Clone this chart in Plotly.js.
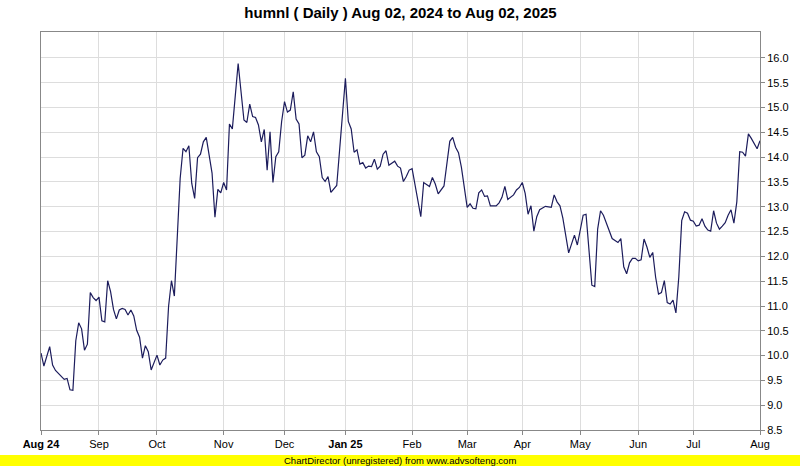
<!DOCTYPE html>
<html>
<head>
<meta charset="utf-8">
<script src="https://cdn.plot.ly/plotly-3.0.1.min.js"></script>
<style>html,body{margin:0;padding:0;background:#fff;}#chart{width:800px;height:466px;}</style>
</head>
<body>
<div id="chart"></div>
<script>
// Trading-day index of each observation (0 = first day of the window)
const dayIdx = [0,1,3,4,5,7,8,9,10,11,12,13,14,15,16,17,18,19,20,21,22,23,24,25,26,27,28,29,30,31,32,33,34,35,36,37,38,40,41,42,43,44,45,46,48,49,50,51,52,53,54,55,56,57,59,60,61,62,63,64,65,66,68,70,71,72,73,74,75,76,77,78,79,80,81,82,83,84,85,86,87,88,89,90,91,92,93,94,95,96,97,98,99,100,102,105,106,107,108,109,110,111,112,113,114,115,116,117,118,119,120,122,123,124,125,126,127,128,131,132,134,135,136,137,139,141,142,143,144,145,147,148,149,150,151,152,153,154,155,157,158,159,160,161,163,164,165,166,167,168,169,170,171,172,174,176,177,178,179,180,182,184,185,187,188,190,191,192,193,194,196,197,199,200,201,202,203,204,205,206,207,208,209,210,211,212,213,214,215,216,217,218,219,220,221,222,223,224,225,226,227,228,229,230,231,232,233,234,235,236,237,238,239,240,241,242,243,244,245,246,247,248];
// Closing price
const closePx = [10.05,9.79,10.18,9.81,9.70,9.59,9.52,9.54,9.31,9.30,10.30,10.66,10.54,10.11,10.23,11.27,11.17,11.11,11.18,10.70,10.68,11.51,11.29,10.93,10.74,10.92,10.95,10.93,10.82,10.92,10.80,10.51,10.37,9.95,10.20,10.08,9.71,10.01,9.81,9.91,9.95,10.99,11.51,11.20,13.57,14.18,14.11,14.23,13.47,13.17,13.99,14.06,14.31,14.40,13.68,12.79,13.35,13.28,13.49,13.34,14.67,14.57,15.89,14.75,14.70,15.07,14.82,14.80,14.65,14.31,14.56,13.74,14.51,13.49,14.01,14.11,14.72,15.12,14.91,14.95,15.32,14.77,14.67,13.99,14.04,14.43,14.31,14.51,14.11,14.01,13.59,13.51,13.61,13.29,13.43,15.59,14.72,14.57,14.10,14.15,13.86,13.89,13.78,13.82,13.81,13.96,13.76,13.82,14.06,14.13,13.84,13.92,13.82,13.78,13.51,13.61,13.74,13.77,12.80,13.49,13.41,13.59,13.46,13.26,13.42,14.32,14.40,14.20,14.09,13.80,12.99,13.06,12.97,12.96,13.28,13.34,13.21,13.22,13.02,13.02,13.08,13.19,13.41,13.15,13.24,13.34,13.39,13.49,13.27,12.85,13.02,12.51,12.80,12.94,13.01,12.99,13.24,13.10,13.02,12.77,12.07,12.43,12.23,12.83,12.85,11.42,11.39,12.55,12.92,12.83,12.50,12.36,12.28,12.36,11.79,11.65,11.87,11.96,11.96,11.91,11.93,12.35,12.19,11.98,12.08,11.58,11.24,11.27,11.51,11.07,11.04,11.12,10.86,11.59,12.72,12.90,12.87,12.73,12.71,12.61,12.63,12.76,12.61,12.53,12.51,12.92,12.67,12.55,12.61,12.68,12.83,12.94,12.67,13.10,14.11,14.10,14.02,14.47,14.38,14.27,14.17,14.33];
// Month tick positions (trading-day index) and labels
const monthTickIdx = [0,20,40,63,84,105,128,147,166,186,206,225,248];
const monthTickText = ['<b>Aug 24</b>','Sep','Oct','Nov','Dec','<b>Jan 25</b>','Feb','Mar','Apr','May','Jun','Jul','Aug'];
// Price axis ticks
const priceTicks = [8.5,9.0,9.5,10.0,10.5,11.0,11.5,12.0,12.5,13.0,13.5,14.0,14.5,15.0,15.5,16.0];
const titleText = 'humnl ( Daily ) Aug 02, 2024 to Aug 02, 2025';
const bannerText = 'ChartDirector (unregistered) from www.advsofteng.com';

const FONT = 'Liberation Sans, Arial, sans-serif';
const trace = {
  x: dayIdx, y: closePx, type: 'scatter', mode: 'lines',
  line: {color: '#1c1c5c', width: 1.2}, hoverinfo: 'skip'
};
// plot area 41..760 x, 32..430 y
const W = 800, H = 466, L = 41, R = 760, T = 32, B = 430;
const px2py = Y => (B - Y) / (B - T);
const px2px = X => (X - L) / (R - L);
const layout = {
  width: W, height: H,
  margin: {l: L, r: W - R, t: T, b: H - B, pad: 0},
  paper_bgcolor: '#ffffff', plot_bgcolor: '#ffffff',
  showlegend: false,
  font: {family: FONT, size: 11, color: '#000'},
  title: {text: '<b>' + titleText + '</b>', font: {family: FONT, size: 15, color: '#000'},
          x: 0.5, xanchor: 'center', y: 1 - 13 / H, yanchor: 'middle', xref: 'paper', yref: 'container'},
  xaxis: {
    range: [0, 248], tickmode: 'array', tickvals: monthTickIdx, ticktext: monthTickText,
    showgrid: true, gridcolor: '#dddddd', gridwidth: 1,
    showline: true, linecolor: '#888888', linewidth: 1, mirror: true,
    ticks: 'outside', ticklen: 4, tickcolor: '#888888',
    tickfont: {family: FONT, size: 11, color: '#000'}, zeroline: false, fixedrange: true
  },
  yaxis: {
    side: 'right', range: [8.5, 16.524], tickmode: 'array', tickvals: priceTicks,
    ticktext: priceTicks.map(v => v.toFixed(1)),
    showgrid: true, gridcolor: '#dddddd', gridwidth: 1,
    showline: true, linecolor: '#888888', linewidth: 1, mirror: true,
    ticks: 'outside', ticklen: 4, tickcolor: '#888888',
    tickfont: {family: FONT, size: 11, color: '#000'}, zeroline: false, fixedrange: true
  },
  shapes: [{
    type: 'rect', xref: 'paper', yref: 'paper', layer: 'below',
    x0: px2px(0), x1: px2px(W), y0: px2py(H), y1: px2py(455),
    fillcolor: '#ffff00', line: {width: 0}
  }],
  annotations: [{
    text: bannerText, xref: 'paper', yref: 'paper', x: 0.5 * (px2px(0) + px2px(W)), y: px2py(460.5),
    xanchor: 'center', yanchor: 'middle', showarrow: false,
    font: {family: FONT, size: 9.5, color: '#000'}
  }]
};
Plotly.newPlot('chart', [trace], layout, {staticPlot: true, displayModeBar: false});
</script>
</body>
</html>
